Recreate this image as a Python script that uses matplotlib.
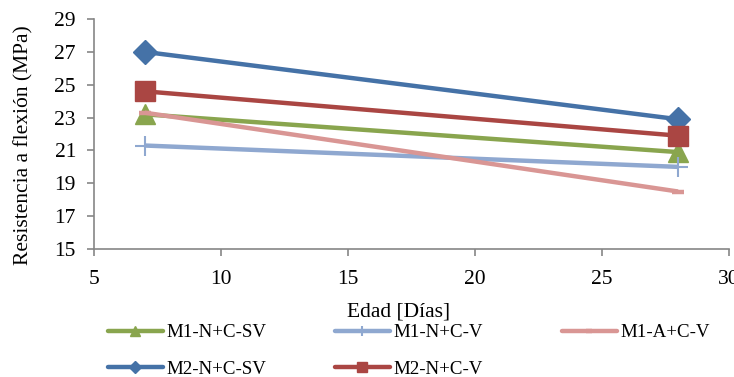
import matplotlib
matplotlib.use("Agg")
import matplotlib.pyplot as plt

plt.rcParams['font.family'] = ['Liberation Serif', 'DejaVu Serif']

dias = [7, 28]
series = ["M1-N+C-SV", "M1-N+C-V", "M1-A+C-V", "M2-N+C-SV", "M2-N+C-V"]
m1_n_c_sv = [23.2, 20.9]
m1_n_c_v = [21.3, 20.0]
m1_a_c_v = [23.3, 18.5]
m2_n_c_sv = [27.0, 22.9]
m2_n_c_v = [24.6, 21.9]

valores = [m1_n_c_sv, m1_n_c_v, m1_a_c_v, m2_n_c_sv, m2_n_c_v]
colores = ["#89A54E", "#8FA8D0", "#D99694", "#4572A7", "#AA4643"]
marcadores = ["^", "+", "_", "D", "s"]
tamanos = [14, 14, 9, 12.5, 14.5]

FS = 15.5
FS_LEG = 13.6

fig = plt.figure(figsize=(7.34, 3.77), dpi=100)
ax = fig.add_axes([0.128, 0.3395, 0.865, 0.61])

handles = []
for nombre, vals, col, mk, ms in zip(series, valores, colores, marcadores, tamanos):
    mew = {'+': 1.5, '_': 3.2}.get(mk, 1)
    h, = ax.plot(dias, vals, color=col, lw=3.2, solid_capstyle='butt',
                 label=nombre, marker=mk, markersize=ms, markeredgecolor=col,
                 markerfacecolor=col, markeredgewidth=mew)
    handles.append(h)

ax.set_xlim(5, 30)
ax.set_ylim(15, 29)
ax.set_xticks(range(5, 31, 5))
ax.set_yticks(range(15, 30, 2))
for s in ("top", "right"):
    ax.spines[s].set_visible(False)
for s in ("left", "bottom"):
    ax.spines[s].set_color("#868686")
    ax.spines[s].set_linewidth(1.2)
ax.tick_params(axis='both', colors="#868686", labelcolor="black",
               labelsize=FS, length=5, width=1.2, direction='out')
ax.tick_params(axis='x', pad=10)
ax.tick_params(axis='y', pad=8)
ax.set_ylabel("Resistencia a flexión (MPa)", fontsize=FS)
ax.yaxis.set_label_coords(-0.096, 0.45)

fig.text(399 / 734, 1 - 312 / 377, "Edad [Días]", fontsize=FS,
         ha='center', va='center')

# legend laid out as fixed-width columns
columnas = [[0, 3], [1, 4], [2]]
x_col = [108, 335, 562]
for idx, x0 in zip(columnas, x_col):
    leg = fig.legend([handles[i] for i in idx], [series[i] for i in idx],
                     ncol=1, loc='upper left',
                     bbox_to_anchor=(x0 / 734, 1 - 324 / 377),
                     frameon=False, fontsize=FS_LEG, handlelength=2.9,
                     handletextpad=0.2, labelspacing=1.03, borderaxespad=0,
                     borderpad=0, numpoints=1, markerscale=0.5)
    for ln in leg.get_lines():
        ln.set_solid_capstyle('round')

fig.savefig("out.png", dpi=100)
